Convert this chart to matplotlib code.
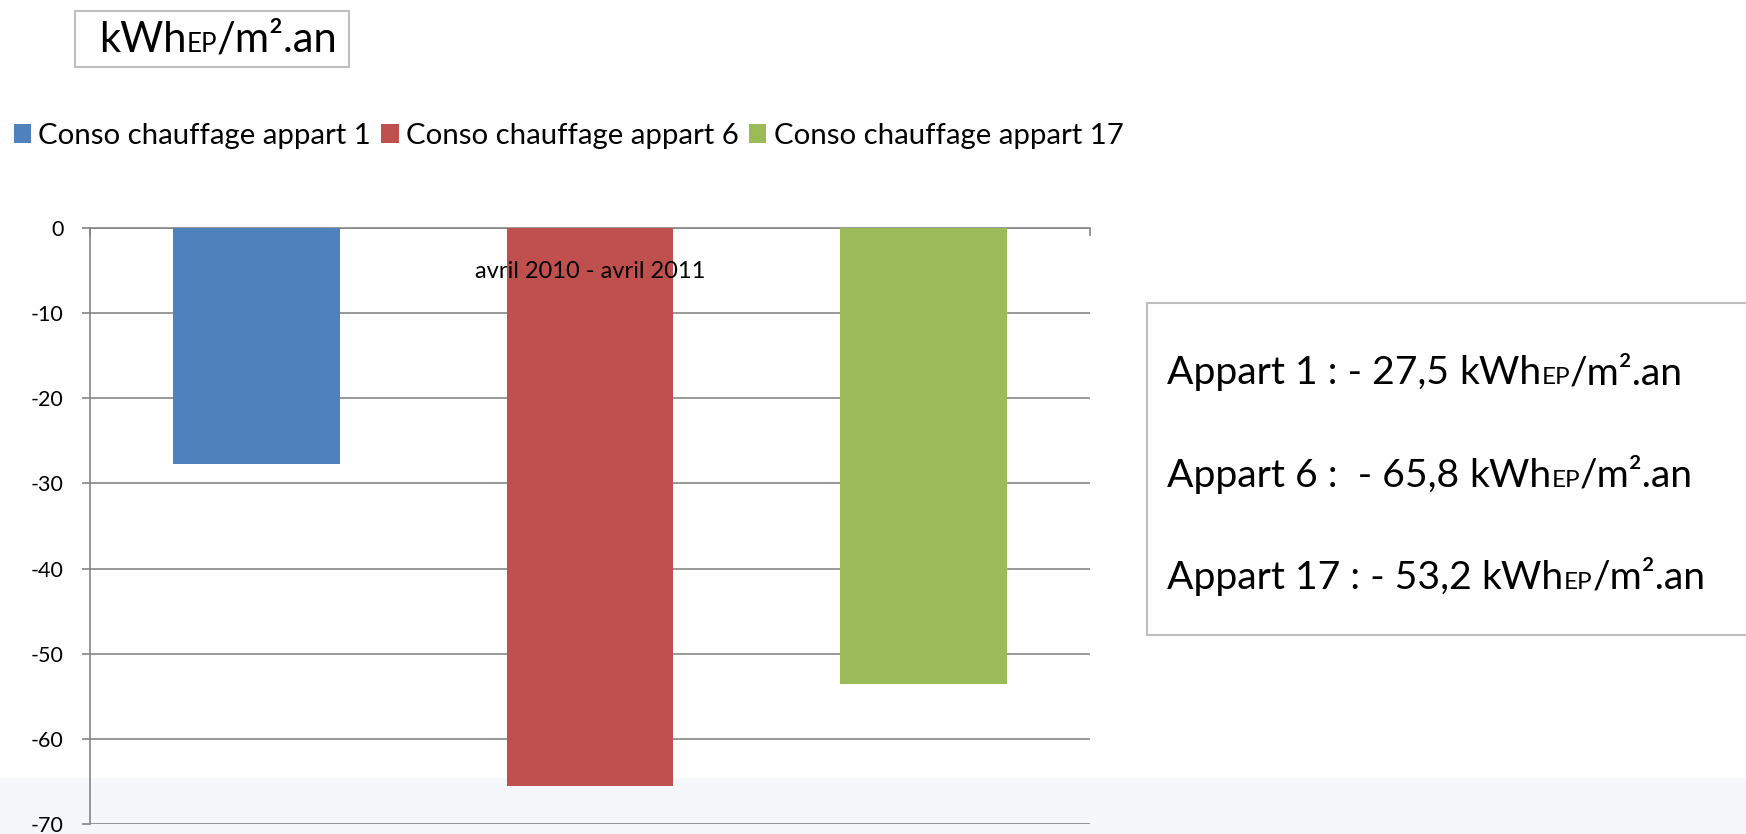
import numpy as np
import matplotlib
matplotlib.use("Agg")
import matplotlib.pyplot as plt
from matplotlib.patches import Rectangle

# data
category = "avril 2010 - avril 2011"
series = ["Conso chauffage appart 1", "Conso chauffage appart 6", "Conso chauffage appart 17"]
values = [-27.7, -65.5, -53.6]
colors = ["#4F81BD", "#C0504D", "#9BBB59"]
y_ticks = [0, -10, -20, -30, -40, -50, -60, -70]
unit_main = ["kWh", "EP", "/m².an"]
summary_lines = ["Appart 1 : - 27,5 ", "Appart 6 :  - 65,8 ", "Appart 17 : - 53,2 "]

plt.rcParams['font.family'] = ['Lato', 'DejaVu Sans']
plt.rcParams['axes.unicode_minus'] = False

W, H = 1746, 834
fig = plt.figure(figsize=(W / 100, H / 100), dpi=100)

def fx(px):
    return px / W

def fy(py):
    return 1 - py / H

# faint slide background at the bottom
fig.patches.append(Rectangle((0, 0), 1, fy(778), transform=fig.transFigure,
                             facecolor="#F5F7FA", edgecolor="none", zorder=-1))

ax = fig.add_axes([fx(90), fy(824), fx(1090) - fx(90), fy(228) - fy(824)])
ax.set_facecolor("none")

# one category, three series side by side
n = len(series)
width = 1.0 / (2 * n)
offsets = (np.arange(n) - (n - 1) / 2) * (2 * width)
bars = []
for i in range(n):
    b = ax.bar(offsets[i], values[i], width=width, color=colors[i], label=series[i], zorder=3)
    bars.append(b)

ax.set_xlim(-0.5, 0.5)
ax.set_ylim(-70, 0)
ax.set_yticks(y_ticks)
ax.set_yticklabels([str(t) for t in y_ticks])
ax.yaxis.grid(True, color="#868686", linewidth=1.2, zorder=0)
ax.set_axisbelow(True)

grey = "#868686"
for s in ["right", "bottom"]:
    ax.spines[s].set_visible(False)
for s in ["left", "top"]:
    ax.spines[s].set_color(grey)
    ax.spines[s].set_linewidth(1.2)

ax.tick_params(axis="y", direction="out", length=6, width=1.2, color=grey,
               labelsize=15.5, pad=13, labelcolor="black")
ax.xaxis.tick_top()
ax.set_xticks([-0.5, 0.5])
ax.set_xticklabels(["", ""])
ax.tick_params(axis="x", direction="in", length=6, width=1.2, color=grey)

ax.annotate(category, xy=(0, 0), xytext=(0, -31), textcoords="offset points",
            ha="center", va="center", fontsize=17, zorder=5)

fig.legend(handles=bars, labels=series, loc="center left",
           bbox_to_anchor=(fx(14), fy(136)), ncol=3, frameon=False,
           fontsize=21.2, handlelength=0.58, handleheight=0.58,
           handletextpad=0.25, columnspacing=0.35, borderpad=0, borderaxespad=0)

# text boxes
fig.patches.append(Rectangle((fx(75), fy(67)), fx(349) - fx(75), fy(11) - fy(67),
                             transform=fig.transFigure, facecolor="white",
                             edgecolor="#BFBFBF", linewidth=1.5))
fig.patches.append(Rectangle((fx(1147), fy(635)), fx(1760) - fx(1147), fy(303) - fy(635),
                             transform=fig.transFigure, facecolor="white",
                             edgecolor="#BFBFBF", linewidth=1.5))

renderer = fig.canvas.get_renderer()

def draw_parts(x, y, parts, size):
    for txt, scale in parts:
        t = fig.text(x, y, txt, fontsize=size * scale, ha="left", va="baseline")
        bb = t.get_window_extent(renderer)
        x = x + bb.width / W

unit_parts = [(unit_main[0], 1.0), (unit_main[1], 0.62), (unit_main[2], 1.0)]
draw_parts(fx(99), fy(52), unit_parts, 30)

for k, line in enumerate(summary_lines):
    draw_parts(fx(1167), fy(384 + k * 102.5), [(line, 1.0)] + unit_parts, 28.2)

fig.savefig("out.png", dpi=100)
